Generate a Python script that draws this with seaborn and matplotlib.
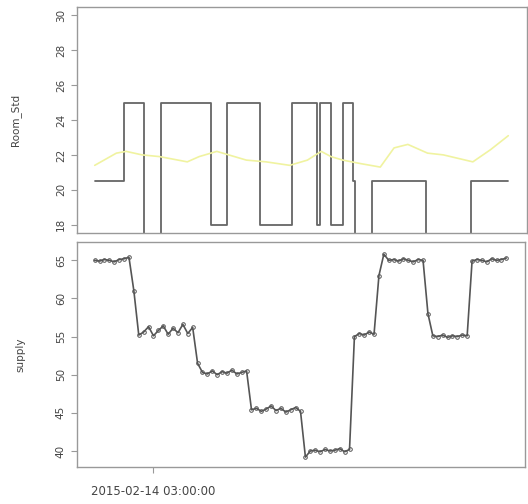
import numpy as np
import pandas as pd
import matplotlib
matplotlib.use("Agg")
import matplotlib.pyplot as plt
import seaborn as sns

# ---- data (hours after 2015-02-14 00:00) ----
step_hours = [0, 1.48, 2.5, 3.37, 5.9, 6.7, 8.37, 10.0, 11.3, 11.42, 12.0, 12.6, 13.1, 13.22, 14.1, 16.8, 19.1, 21.0]
step_levels = [20.5, 25, 16, 25, 18, 25, 18, 25, 18, 25, 18, 25, 20.5, 16, 20.5, 16, 20.5, 20.5]

room_hours = [0, 1.1, 1.6, 2.4, 3.3, 4.7, 5.3, 6.2, 6.8, 7.7, 8.7, 9.9, 10.8, 11.5, 12.0, 12.6, 13.5, 14.5, 15.2, 15.9, 16.9, 17.7, 19.2, 20.1, 21.0]
room_vals = [21.4, 22.1, 22.2, 22.0, 21.9, 21.6, 21.9, 22.2, 22.0, 21.7, 21.6, 21.4, 21.7, 22.2, 21.9, 21.7, 21.5, 21.3, 22.4, 22.6, 22.1, 22.0, 21.6, 22.3, 23.1]

supply = [65.0, 64.9, 65.1, 65.0, 64.8, 65.1, 65.2, 65.4, 61.0,
          55.2, 55.6, 56.3, 55.1, 55.8, 56.4, 55.3, 56.1, 55.5, 56.6, 55.4, 56.2,
          51.5, 50.3, 50.1, 50.5, 50.0, 50.4, 50.2, 50.6, 50.1, 50.3, 50.5,
          45.4, 45.6, 45.2, 45.5, 45.9, 45.3, 45.6, 45.1, 45.4, 45.7, 45.2,
          39.2, 40.0, 40.1, 39.9, 40.2, 40.0, 40.1, 40.3, 39.9, 40.2,
          55.0, 55.4, 55.2, 55.6, 55.3, 63.0,
          65.8, 65.0, 65.1, 64.9, 65.2, 65.0, 64.8, 65.1, 65.0, 58.0,
          55.1, 55.0, 55.2, 54.9, 55.1, 55.0, 55.2, 55.1,
          64.9, 65.1, 65.0, 64.8, 65.2, 65.0, 65.1, 65.3]

top_yticks = [18, 20, 22, 24, 26, 28, 30]
bot_yticks = [40, 45, 50, 55, 60, 65]
x_tick_label = "2015-02-14 03:00:00"

t0 = pd.Timestamp("2015-02-14 00:00:00")
def to_time(h):
    return t0 + pd.to_timedelta(np.asarray(h, dtype=float), unit="h")

step_df = pd.DataFrame({"time": to_time(step_hours), "Room_Std": step_levels})
room_df = pd.DataFrame({"time": to_time(room_hours), "room": room_vals})
supply_df = pd.DataFrame({"time": pd.date_range(t0, periods=len(supply), freq="15min"),
                          "supply": supply})

sns.set_style("white")
plt.rcParams["font.family"] = ["DejaVu Sans"]

fig = plt.figure(figsize=(5.28, 5.04), dpi=100)
ax1 = fig.add_axes([77/528, 1-233/504, 450/528, 226/504])
ax2 = fig.add_axes([77/528, 1-467/504, 448/528, 225/504])

xlim = (t0 + pd.Timedelta(hours=-0.9), t0 + pd.Timedelta(hours=21.95))

# top panel
sns.lineplot(data=step_df, x="time", y="Room_Std", ax=ax1, color="#666666",
             linewidth=1.3, drawstyle="steps-post", estimator=None)
sns.lineplot(data=room_df, x="time", y="room", ax=ax1, color="#f0f3a0",
             linewidth=1.2, estimator=None)
ax1.set_ylim(17.52, 30.48)
ax1.set_yticks(top_yticks)
ax1.set_yticklabels([str(v) for v in top_yticks], rotation=90, va="center")
ax1.set_xlim(xlim)
ax1.set_xticks([])
ax1.set_xlabel("")
ax1.set_ylabel("Room_Std", fontsize=7.5, color="#444444")
ax1.yaxis.set_label_coords(-0.125, 0.5)

# bottom panel
sns.lineplot(data=supply_df, x="time", y="supply", ax=ax2, color="#555555",
             linewidth=1.2, marker="o", markersize=2.6, markerfacecolor="none",
             markeredgecolor="#555555", markeredgewidth=0.7, estimator=None)
ax2.set_ylim(37.9, 67.4)
ax2.set_yticks(bot_yticks)
ax2.set_yticklabels([str(v) for v in bot_yticks], rotation=90, va="center")
ax2.set_xlim(xlim)
ax2.set_xticks([t0 + pd.Timedelta(hours=3)])
ax2.set_xticklabels([x_tick_label])
ax2.set_xlabel("")
ax2.set_ylabel("supply", fontsize=7.5, color="#444444")
ax2.yaxis.set_label_coords(-0.115, 0.5)

for ax in (ax1, ax2):
    for s in ax.spines.values():
        s.set_color("#999999")
        s.set_linewidth(1.0)
    ax.tick_params(axis="both", which="both", direction="out", length=4,
                   width=0.8, color="#999999", labelsize=7.5, labelcolor="#444444",
                   left=True, bottom=True, pad=4)
    leg = ax.get_legend()
    if leg is not None:
        leg.remove()
ax2.tick_params(axis="x", labelsize=8.5, pad=9)

fig.savefig("out.png", dpi=100)
